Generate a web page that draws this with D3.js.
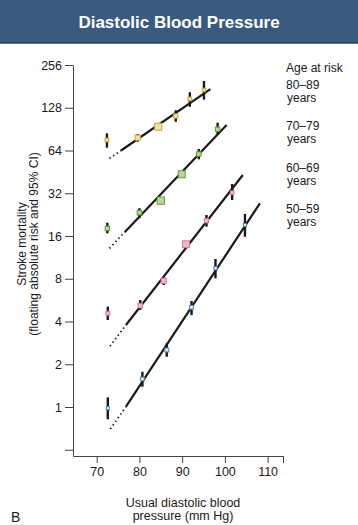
<!DOCTYPE html>
<html>
<head>
<meta charset="utf-8">
<script src="https://cdn.jsdelivr.net/npm/d3@7"></script>
<style>
  html, body { margin: 0; padding: 0; background: #fff; }
  svg { display: block; font-family: "Liberation Sans", Arial, Helvetica, sans-serif; }
</style>
</head>
<body>
<svg id="chart" width="358" height="525"></svg>
<script>
// ---------- data ----------
const title = "Diastolic Blood Pressure";
const ageGroups = ["80–89", "70–79", "60–69", "50–59"];
const xTicks = [70, 80, 90, 100, 110];
const yTicks = [0.5, 1, 2, 4, 8, 16, 32, 64, 128, 256];

// usual diastolic BP (mm Hg) per group
const bp80 = [72.4, 79.6, 84.4, 88.5, 91.8, 95.1];
const bp70 = [72.5, 80.0, 85.0, 89.9, 93.9, 98.3];
const bp60 = [72.6, 80.2, 85.7, 90.9, 95.7, 101.7];
const bp50 = [72.6, 80.7, 86.4, 92.2, 97.8, 104.7];

// floating absolute risk
const risk80 = [75.9, 78.8, 94.1, 112, 147.6, 170.7];
const risk70 = [18.1, 23.35, 28.4, 43.5, 60.5, 90.3];
const risk60 = [4.57, 5.17, 7.75, 14.0, 20.5, 32.3];
const risk50 = [0.98, 1.575, 2.52, 5.04, 9.48, 19.1];

// 95% CI lower / upper
const lo80 = [67.0, 73.8, 91.0, 102, 130, 146];
const hi80 = [84.6, 83.6, 97.4, 123, 164.6, 197.5];
const lo70 = [16.7, 21.3, 27.5, 42.0, 55.5, 83.6];
const hi70 = [19.85, 25.1, 29.3, 45.0, 65.6, 100.5];
const lo60 = [4.10, 4.82, 7.23, 13.5, 18.6, 28.7];
const hi60 = [5.09, 5.67, 8.19, 14.5, 22.5, 37.2];
const lo50 = [0.82, 1.39, 2.26, 4.44, 8.06, 15.8];
const hi50 = [1.17, 1.77, 2.81, 5.58, 11.02, 22.9];

// fitted lines: [dotted start x, solid start x, end x] and matching risk values
const fitX80 = [73.0, 75.7, 96.6];
const fitY80 = [56.3, 64.0, 173];
const fitX70 = [73.0, 76.6, 100.4];
const fitY70 = [13.1, 17.1, 96.7];
const fitX60 = [73.1, 76.85, 104.2];
const fitY60 = [2.68, 3.78, 43.0];
const fitX50 = [73.2, 76.85, 108.2];
const fitY50 = [0.70, 1.005, 27.2];

// ---------- styles ----------
const fills   = ["#f6e39a", "#b8da8e", "#f3b8c5", "#eef3fb"];
const strokes = ["#c9a642", "#5f9a3e", "#d07f96", "#4f7fb8"];
const ink = "#1a1a1a";

const groups = [
  {bp: bp80, r: risk80, lo: lo80, hi: hi80, fx: fitX80, fy: fitY80},
  {bp: bp70, r: risk70, lo: lo70, hi: hi70, fx: fitX70, fy: fitY70},
  {bp: bp60, r: risk60, lo: lo60, hi: hi60, fx: fitX60, fy: fitY60},
  {bp: bp50, r: risk50, lo: lo50, hi: hi50, fx: fitX50, fy: fitY50}
];

const svg = d3.select("#chart");

// title bar
svg.append("rect").attr("x", 0).attr("y", 0).attr("width", 358).attr("height", 43)
  .attr("fill", "#3b5a80");
svg.append("line").attr("x1", 0).attr("x2", 358).attr("y1", 43).attr("y2", 43)
  .attr("stroke", "#2b4262").attr("stroke-width", 1.5);
svg.append("text").attr("x", 179).attr("y", 28).attr("text-anchor", "middle")
  .attr("fill", "#fff").attr("font-weight", "bold").attr("font-size", 17)
  .text(title);

// scales
const xMin = 64.46, xMax = 113.6;
const x = d3.scaleLinear().domain([xMin, xMax]).range([73, 283]);
const y = d3.scaleLog().base(2).domain([Math.pow(2, -1.146), 256]).range([456, 65]);

// axes
const xAxis = d3.axisBottom(x).tickValues(xTicks.concat([xMax]))
  .tickFormat(d => xTicks.includes(d) ? d : "")
  .tickSize(7).tickSizeOuter(0).tickPadding(4.5);
const gx = svg.append("g").attr("transform", "translate(0,456)").call(xAxis);

const yAxis = d3.axisLeft(y).tickValues(yTicks)
  .tickFormat(d => d >= 1 ? d : "")
  .tickSize(8).tickSizeOuter(0).tickPadding(3);
const gy = svg.append("g").attr("transform", "translate(73,0)").call(yAxis);

[gx, gy].forEach(g => {
  g.select(".domain").attr("stroke", "#444").attr("stroke-width", 1);
  g.selectAll(".tick line").attr("stroke", "#444").attr("stroke-width", 1);
  g.selectAll(".tick text").attr("fill", ink).attr("font-size", 12.5)
    .attr("font-family", "'Liberation Sans', Arial, Helvetica, sans-serif");
});

// series
const plot = svg.append("g");
groups.forEach((g, i) => {
  // dotted extension
  plot.append("line")
    .attr("x1", x(g.fx[0])).attr("y1", y(g.fy[0]))
    .attr("x2", x(g.fx[1])).attr("y2", y(g.fy[1]))
    .attr("stroke", ink).attr("stroke-width", 1.8)
    .attr("stroke-dasharray", "1.4,3").attr("stroke-linecap", "butt");
  // solid fit
  plot.append("line")
    .attr("x1", x(g.fx[1])).attr("y1", y(g.fy[1]))
    .attr("x2", x(g.fx[2])).attr("y2", y(g.fy[2]))
    .attr("stroke", ink).attr("stroke-width", 2.2);
  // CI bars
  g.bp.forEach((v, j) => {
    plot.append("line")
      .attr("x1", x(v)).attr("x2", x(v))
      .attr("y1", y(g.lo[j])).attr("y2", y(g.hi[j]))
      .attr("stroke", ink).attr("stroke-width", 2.4);
  });
  // squares (size inversely related to CI width)
  g.bp.forEach((v, j) => {
    const w = Math.log2(g.hi[j] / g.lo[j]);
    const s = Math.max(3, Math.min(7.5, 2.2 / Math.sqrt(w)));
    plot.append("rect")
      .attr("x", x(v) - s / 2).attr("y", y(g.r[j]) - s / 2)
      .attr("width", s).attr("height", s)
      .attr("fill", fills[i]).attr("stroke", strokes[i]).attr("stroke-width", 1);
  });
});

// legend
const leg = svg.append("g").attr("fill", ink).attr("font-size", 12);
leg.append("text").attr("x", 286).attr("y", 71.5).text("Age at risk");
ageGroups.forEach((a, i) => {
  const by = 89 + i * 41.4;
  leg.append("text").attr("x", 286).attr("y", by).text(a);
  leg.append("text").attr("x", 287).attr("y", by + 13).text("years");
});

// axis titles
const yt = svg.append("text").attr("fill", ink).attr("font-size", 12)
  .attr("text-anchor", "middle").attr("transform", "translate(26,244) rotate(-90)");
yt.append("tspan").attr("x", 0).attr("y", 0).text("Stroke mortality");
yt.append("tspan").attr("x", 0).attr("y", 12).text("(floating absolute risk and 95% CI)");

const xt = svg.append("text").attr("fill", ink).attr("font-size", 12.5).attr("text-anchor", "middle");
xt.append("tspan").attr("x", 183).attr("y", 507).text("Usual diastolic blood");
xt.append("tspan").attr("x", 183).attr("y", 520).text("pressure (mm Hg)");

svg.append("text").attr("x", 11).attr("y", 521.5).attr("fill", ink).attr("font-size", 14).text("B");
</script>
</body>
</html>
